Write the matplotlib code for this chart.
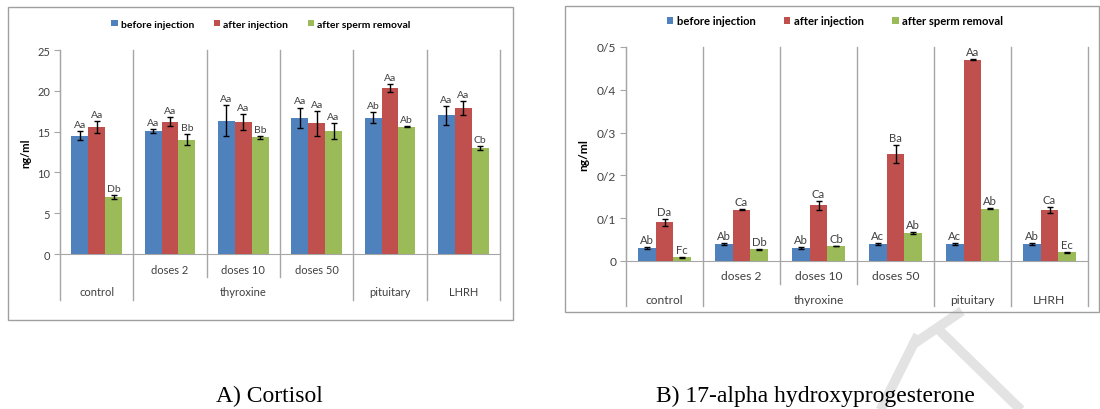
import numpy as np
import matplotlib
matplotlib.use("Agg")
import matplotlib.pyplot as plt
from matplotlib.lines import Line2D
from matplotlib.patches import Rectangle

plt.rcParams["font.family"] = ["Lato", "DejaVu Sans"]

# categories
sub_labels = ["", "doses 2", "doses 10", "doses 50", "", ""]
top_groups = ["control", "thyroxine", "pituitary", "LHRH"]
top_spans = [1, 3, 1, 1]
series = ["before injection", "after injection", "after sperm removal"]
colors = ["#4F81BD", "#C0504D", "#9BBB59"]

# A) cortisol
cort_before = [14.5, 15.1, 16.3, 16.7, 16.7, 17.0]
cort_after = [15.6, 16.2, 16.2, 16.0, 20.3, 17.9]
cort_removal = [7.0, 14.0, 14.3, 15.1, 15.6, 13.0]
cort_before_err = [0.55, 0.25, 1.9, 1.25, 0.7, 1.15]
cort_after_err = [0.75, 0.55, 1.0, 1.5, 0.5, 0.9]
cort_removal_err = [0.2, 0.7, 0.2, 1.0, 0.05, 0.25]
cort_before_lab = ["Aa", "Aa", "Aa", "Aa", "Ab", "Aa"]
cort_after_lab = ["Aa", "Aa", "Aa", "Aa", "Aa", "Aa"]
cort_removal_lab = ["Db", "Bb", "Bb", "Aa", "Ab", "Cb"]
cort_ticks = [0, 5, 10, 15, 20, 25]
cort_ticklabels = ["0", "5", "10", "15", "20", "25"]

# B) 17-alpha hydroxyprogesterone
ohp_before = [0.030, 0.040, 0.030, 0.040, 0.040, 0.040]
ohp_after = [0.090, 0.120, 0.130, 0.250, 0.470, 0.120]
ohp_removal = [0.009, 0.027, 0.035, 0.065, 0.122, 0.020]
ohp_before_err = [0.003, 0.002, 0.003, 0.002, 0.002, 0.002]
ohp_after_err = [0.008, 0.001, 0.011, 0.020, 0.001, 0.007]
ohp_removal_err = [0.001, 0.001, 0.001, 0.003, 0.001, 0.001]
ohp_before_lab = ["Ab", "Ab", "Ab", "Ac", "Ac", "Ab"]
ohp_after_lab = ["Da", "Ca", "Ca", "Ba", "Aa", "Ca"]
ohp_removal_lab = ["Fc", "Db", "Cb", "Ab", "Ab", "Ec"]
ohp_ticks = [0, 0.1, 0.2, 0.3, 0.4, 0.5]
ohp_ticklabels = ["0", "0/1", "0/2", "0/3", "0/4", "0/5"]

W, H = 1100, 410
GRID = "#a6a6a6"
TEXT = "#404040"


def px_box(x0, y0, x1, y1):
    """pixel box (top-left origin) -> figure fraction rect"""
    return [x0 / W, 1 - y1 / H, (x1 - x0) / W, (y1 - y0) / H]


def draw_panel(ax, values, errors, letters, ticks, ticklabels,
               legend_x, ylabel_x, rows, fs=1.0, colspace=2.0):
    n = len(sub_labels)
    x = np.arange(n)
    width = 0.23
    for k in range(3):
        pos = x + (k - 1) * width
        ax.bar(pos, values[k], width, color=colors[k], label=series[k],
               zorder=3)
        ax.errorbar(pos, values[k], yerr=errors[k], fmt="none",
                    ecolor="black", elinewidth=1, capsize=2, capthick=1,
                    zorder=4)
        for xp, v, e, t in zip(pos, values[k], errors[k], letters[k]):
            ax.annotate(t, (xp, v + e), xytext=(0, 1.5),
                        textcoords="offset points", ha="center",
                        va="bottom", fontsize=7.5 * fs, color=TEXT)

    ax.set_xlim(-0.5, n - 0.5)
    ax.set_ylim(ticks[0], ticks[-1])
    ax.set_yticks(ticks)
    ax.set_yticklabels(ticklabels)
    ax.set_xticks([])
    for s in ["top", "right"]:
        ax.spines[s].set_visible(False)
    ax.spines["left"].set_color(GRID)
    ax.spines["bottom"].set_color(GRID)
    ax.tick_params(axis="y", colors=GRID, length=4, labelsize=8 * fs,
                   labelcolor=TEXT, pad=3)

    # multi level category axis
    h = ax.bbox.height
    row1, row2, short, long_ = [-r / h for r in rows]
    tr = ax.get_xaxis_transform()
    edges = -0.5 + np.concatenate([[0], np.cumsum(top_spans)])
    for b in np.arange(-0.5, n):
        bottom = long_ if np.any(np.isclose(edges, b)) else short
        ax.plot([b, b], [bottom, 1], color=GRID, lw=1, transform=tr,
                clip_on=False, zorder=1)
    for xi, lab in zip(x, sub_labels):
        if lab:
            ax.text(xi, row1, lab, transform=tr, ha="center", va="center",
                    fontsize=8 * fs, color=TEXT)
    for lab, lo, span in zip(top_groups, edges[:-1], top_spans):
        ax.text(lo + span / 2, row2, lab, transform=tr, ha="center",
                va="center", fontsize=8 * fs, color=TEXT)

    ax.set_ylabel("ng/ml", fontsize=8 * fs, fontweight="bold")
    ax.yaxis.set_label_coords(ylabel_x, 0.5)
    ax.legend(loc="center", bbox_to_anchor=(legend_x, 1 + 26 / h), ncol=3,
              frameon=False, prop={"size": 7.5 * fs, "weight": "bold"},
              handlelength=0.6, handleheight=0.6, handletextpad=0.3,
              columnspacing=colspace)


fig = plt.figure(figsize=(W / 100, H / 100), dpi=100)

# watermark strokes
for (x0, y0), (x1, y1) in [((880, 412), (918, 336)),
                           ((912, 346), (962, 312)),
                           ((937, 329), (1022, 412))]:
    fig.add_artist(Line2D([x0 / W, x1 / W], [1 - y0 / H, 1 - y1 / H],
                          color="#e3e3e3", lw=7, solid_capstyle="butt",
                          zorder=0))

# chart frames
fig.add_artist(Rectangle((8 / W, 1 - 321 / H), 505 / W, 313 / H,
                         fill=False, edgecolor="#a0a0a0", lw=1))
fig.add_artist(Rectangle((565 / W, 1 - 313 / H), 534 / W, 306 / H,
                         fill=False, edgecolor="#a0a0a0", lw=1))

ax1 = fig.add_axes(px_box(60, 51, 500, 255))
draw_panel(ax1,
           [cort_before, cort_after, cort_removal],
           [cort_before_err, cort_after_err, cort_removal_err],
           [cort_before_lab, cort_after_lab, cort_removal_lab],
           cort_ticks, cort_ticklabels,
           legend_x=0.457, ylabel_x=-0.064, rows=(16, 38, 23, 46),
           fs=1.0, colspace=1.9)

ax2 = fig.add_axes(px_box(626, 48, 1088, 262))
draw_panel(ax2,
           [ohp_before, ohp_after, ohp_removal],
           [ohp_before_err, ohp_after_err, ohp_removal_err],
           [ohp_before_lab, ohp_after_lab, ohp_removal_lab],
           ohp_ticks, ohp_ticklabels,
           legend_x=0.452, ylabel_x=-0.080, rows=(15, 38, 23, 45),
           fs=1.08, colspace=2.5)

# captions
fig.text(269 / W, 1 - 396 / H, "A) Cortisol", ha="center", va="center",
         fontsize=17, family="Liberation Serif")
fig.text(815 / W, 1 - 396 / H, "B) 17-alpha hydroxyprogesterone",
         ha="center", va="center", fontsize=17, family="Liberation Serif")

fig.savefig("out.png", dpi=100)
